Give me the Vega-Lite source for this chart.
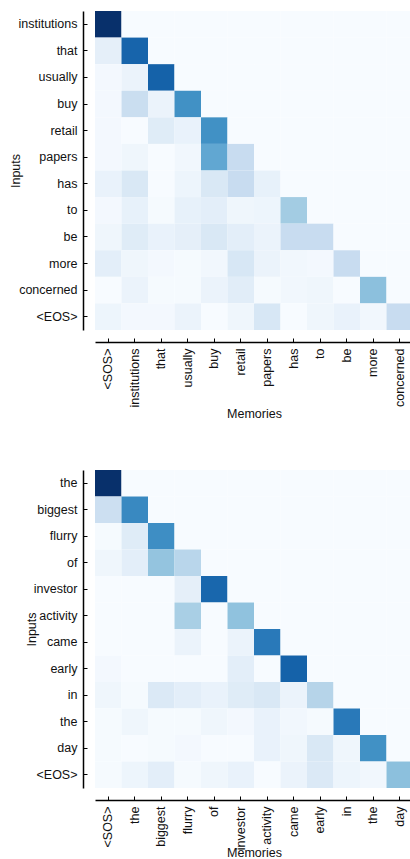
{
  "$schema": "https://vega.github.io/schema/vega-lite/v6.json",
  "padding": {"left": 9, "top": 11, "right": 0, "bottom": 0},
  "spacing": 50,
  "config": {
    "view": {"stroke": null},
    "font": "Liberation Sans",
    "axis": {
      "labelFont": "Liberation Sans", "labelFontSize": 12.5, "labelColor": "#111",
      "titleFont": "Liberation Sans", "titleFontSize": 12.5, "titleFontWeight": "normal", "titleColor": "#111",
      "domainColor": "#000", "domainWidth": 1.5, "tickColor": "#000", "tickWidth": 1, "tickSize": -4,
      "offset": 12, "grid": false, "labelPadding": 10
    },
    "axisX": {"labelAngle": -90, "labelAlign": "right", "labelBaseline": "middle", "titlePadding": 0},
    "axisY": {"titlePadding": -5}
  },
  "vconcat": [
    {
      "width": 318, "height": 319,
      "data": {"values": [
        {"r":0,"c":0,"v":1.0},{"r":0,"c":1,"v":0},{"r":0,"c":2,"v":0},{"r":0,"c":3,"v":0},{"r":0,"c":4,"v":0},{"r":0,"c":5,"v":0},{"r":0,"c":6,"v":0},{"r":0,"c":7,"v":0},{"r":0,"c":8,"v":0},{"r":0,"c":9,"v":0},{"r":0,"c":10,"v":0},{"r":0,"c":11,"v":0},
        {"r":1,"c":0,"v":0.09},{"r":1,"c":1,"v":0.8},{"r":1,"c":2,"v":0},{"r":1,"c":3,"v":0},{"r":1,"c":4,"v":0},{"r":1,"c":5,"v":0},{"r":1,"c":6,"v":0},{"r":1,"c":7,"v":0},{"r":1,"c":8,"v":0},{"r":1,"c":9,"v":0},{"r":1,"c":10,"v":0},{"r":1,"c":11,"v":0},
        {"r":2,"c":0,"v":0.02},{"r":2,"c":1,"v":0.06},{"r":2,"c":2,"v":0.81},{"r":2,"c":3,"v":0},{"r":2,"c":4,"v":0},{"r":2,"c":5,"v":0},{"r":2,"c":6,"v":0},{"r":2,"c":7,"v":0},{"r":2,"c":8,"v":0},{"r":2,"c":9,"v":0},{"r":2,"c":10,"v":0},{"r":2,"c":11,"v":0},
        {"r":3,"c":0,"v":0.02},{"r":3,"c":1,"v":0.23},{"r":3,"c":2,"v":0.06},{"r":3,"c":3,"v":0.63},{"r":3,"c":4,"v":0},{"r":3,"c":5,"v":0},{"r":3,"c":6,"v":0},{"r":3,"c":7,"v":0},{"r":3,"c":8,"v":0},{"r":3,"c":9,"v":0},{"r":3,"c":10,"v":0},{"r":3,"c":11,"v":0},
        {"r":4,"c":0,"v":0.02},{"r":4,"c":1,"v":0},{"r":4,"c":2,"v":0.12},{"r":4,"c":3,"v":0.07},{"r":4,"c":4,"v":0.63},{"r":4,"c":5,"v":0},{"r":4,"c":6,"v":0},{"r":4,"c":7,"v":0},{"r":4,"c":8,"v":0},{"r":4,"c":9,"v":0},{"r":4,"c":10,"v":0},{"r":4,"c":11,"v":0},
        {"r":5,"c":0,"v":0.02},{"r":5,"c":1,"v":0.04},{"r":5,"c":2,"v":0},{"r":5,"c":3,"v":0.03},{"r":5,"c":4,"v":0.53},{"r":5,"c":5,"v":0.24},{"r":5,"c":6,"v":0},{"r":5,"c":7,"v":0},{"r":5,"c":8,"v":0},{"r":5,"c":9,"v":0},{"r":5,"c":10,"v":0},{"r":5,"c":11,"v":0},
        {"r":6,"c":0,"v":0.07},{"r":6,"c":1,"v":0.15},{"r":6,"c":2,"v":0},{"r":6,"c":3,"v":0.05},{"r":6,"c":4,"v":0.15},{"r":6,"c":5,"v":0.24},{"r":6,"c":6,"v":0.08},{"r":6,"c":7,"v":0},{"r":6,"c":8,"v":0},{"r":6,"c":9,"v":0},{"r":6,"c":10,"v":0},{"r":6,"c":11,"v":0},
        {"r":7,"c":0,"v":0.02},{"r":7,"c":1,"v":0.08},{"r":7,"c":2,"v":0.01},{"r":7,"c":3,"v":0.08},{"r":7,"c":4,"v":0.1},{"r":7,"c":5,"v":0.04},{"r":7,"c":6,"v":0.05},{"r":7,"c":7,"v":0.36},{"r":7,"c":8,"v":0},{"r":7,"c":9,"v":0},{"r":7,"c":10,"v":0},{"r":7,"c":11,"v":0},
        {"r":8,"c":0,"v":0.04},{"r":8,"c":1,"v":0.12},{"r":8,"c":2,"v":0.07},{"r":8,"c":3,"v":0.09},{"r":8,"c":4,"v":0.15},{"r":8,"c":5,"v":0.1},{"r":8,"c":6,"v":0.06},{"r":8,"c":7,"v":0.24},{"r":8,"c":8,"v":0.24},{"r":8,"c":9,"v":0},{"r":8,"c":10,"v":0},{"r":8,"c":11,"v":0},
        {"r":9,"c":0,"v":0.1},{"r":9,"c":1,"v":0.04},{"r":9,"c":2,"v":0.02},{"r":9,"c":3,"v":0.01},{"r":9,"c":4,"v":0.03},{"r":9,"c":5,"v":0.16},{"r":9,"c":6,"v":0.06},{"r":9,"c":7,"v":0.03},{"r":9,"c":8,"v":0.02},{"r":9,"c":9,"v":0.24},{"r":9,"c":10,"v":0},{"r":9,"c":11,"v":0},
        {"r":10,"c":0,"v":0},{"r":10,"c":1,"v":0.06},{"r":10,"c":2,"v":0.01},{"r":10,"c":3,"v":0.01},{"r":10,"c":4,"v":0.06},{"r":10,"c":5,"v":0.11},{"r":10,"c":6,"v":0.01},{"r":10,"c":7,"v":0.03},{"r":10,"c":8,"v":0.04},{"r":10,"c":9,"v":0},{"r":10,"c":10,"v":0.42},{"r":10,"c":11,"v":0},
        {"r":11,"c":0,"v":0.05},{"r":11,"c":1,"v":0.02},{"r":11,"c":2,"v":0.02},{"r":11,"c":3,"v":0.06},{"r":11,"c":4,"v":0},{"r":11,"c":5,"v":0.04},{"r":11,"c":6,"v":0.16},{"r":11,"c":7,"v":0},{"r":11,"c":8,"v":0.04},{"r":11,"c":9,"v":0.07},{"r":11,"c":10,"v":0.03},{"r":11,"c":11,"v":0.24}
      ]},
      "mark": {"type": "rect"},
      "encoding": {
        "x": {"field": "c", "type": "ordinal", "title": "Memories",
              "axis": {"labelExpr": "['<SOS>','institutions','that','usually','buy','retail','papers','has','to','be','more','concerned'][datum.value]"}},
        "y": {"field": "r", "type": "ordinal", "title": "Inputs",
              "axis": {"labelExpr": "['institutions','that','usually','buy','retail','papers','has','to','be','more','concerned','<EOS>'][datum.value]"}},
        "color": {"field": "v", "type": "quantitative", "legend": null,
                  "scale": {"domain": [0, 1], "interpolate": "rgb", "range": ["#f7fbff","#deebf7","#c6dbef","#9ecae1","#6baed6","#4292c6","#2171b5","#08519c","#08306b"]}}
      }
    },
    {
      "width": 318, "height": 318,
      "data": {"values": [
        {"r":0,"c":0,"v":1.0},{"r":0,"c":1,"v":0},{"r":0,"c":2,"v":0},{"r":0,"c":3,"v":0},{"r":0,"c":4,"v":0},{"r":0,"c":5,"v":0},{"r":0,"c":6,"v":0},{"r":0,"c":7,"v":0},{"r":0,"c":8,"v":0},{"r":0,"c":9,"v":0},{"r":0,"c":10,"v":0},{"r":0,"c":11,"v":0},
        {"r":1,"c":0,"v":0.22},{"r":1,"c":1,"v":0.66},{"r":1,"c":2,"v":0},{"r":1,"c":3,"v":0},{"r":1,"c":4,"v":0},{"r":1,"c":5,"v":0},{"r":1,"c":6,"v":0},{"r":1,"c":7,"v":0},{"r":1,"c":8,"v":0},{"r":1,"c":9,"v":0},{"r":1,"c":10,"v":0},{"r":1,"c":11,"v":0},
        {"r":2,"c":0,"v":0.01},{"r":2,"c":1,"v":0.12},{"r":2,"c":2,"v":0.64},{"r":2,"c":3,"v":0},{"r":2,"c":4,"v":0},{"r":2,"c":5,"v":0},{"r":2,"c":6,"v":0},{"r":2,"c":7,"v":0},{"r":2,"c":8,"v":0},{"r":2,"c":9,"v":0},{"r":2,"c":10,"v":0},{"r":2,"c":11,"v":0},
        {"r":3,"c":0,"v":0.04},{"r":3,"c":1,"v":0.1},{"r":3,"c":2,"v":0.4},{"r":3,"c":3,"v":0.29},{"r":3,"c":4,"v":0},{"r":3,"c":5,"v":0},{"r":3,"c":6,"v":0},{"r":3,"c":7,"v":0},{"r":3,"c":8,"v":0},{"r":3,"c":9,"v":0},{"r":3,"c":10,"v":0},{"r":3,"c":11,"v":0},
        {"r":4,"c":0,"v":0},{"r":4,"c":1,"v":0},{"r":4,"c":2,"v":0},{"r":4,"c":3,"v":0.09},{"r":4,"c":4,"v":0.79},{"r":4,"c":5,"v":0},{"r":4,"c":6,"v":0},{"r":4,"c":7,"v":0},{"r":4,"c":8,"v":0},{"r":4,"c":9,"v":0},{"r":4,"c":10,"v":0},{"r":4,"c":11,"v":0},
        {"r":5,"c":0,"v":0},{"r":5,"c":1,"v":0},{"r":5,"c":2,"v":0},{"r":5,"c":3,"v":0.34},{"r":5,"c":4,"v":0},{"r":5,"c":5,"v":0.41},{"r":5,"c":6,"v":0},{"r":5,"c":7,"v":0},{"r":5,"c":8,"v":0},{"r":5,"c":9,"v":0},{"r":5,"c":10,"v":0},{"r":5,"c":11,"v":0},
        {"r":6,"c":0,"v":0},{"r":6,"c":1,"v":0},{"r":6,"c":2,"v":0},{"r":6,"c":3,"v":0.06},{"r":6,"c":4,"v":0},{"r":6,"c":5,"v":0.06},{"r":6,"c":6,"v":0.72},{"r":6,"c":7,"v":0},{"r":6,"c":8,"v":0},{"r":6,"c":9,"v":0},{"r":6,"c":10,"v":0},{"r":6,"c":11,"v":0},
        {"r":7,"c":0,"v":0.02},{"r":7,"c":1,"v":0},{"r":7,"c":2,"v":0},{"r":7,"c":3,"v":0},{"r":7,"c":4,"v":0},{"r":7,"c":5,"v":0.1},{"r":7,"c":6,"v":0},{"r":7,"c":7,"v":0.81},{"r":7,"c":8,"v":0},{"r":7,"c":9,"v":0},{"r":7,"c":10,"v":0},{"r":7,"c":11,"v":0},
        {"r":8,"c":0,"v":0.04},{"r":8,"c":1,"v":0.01},{"r":8,"c":2,"v":0.14},{"r":8,"c":3,"v":0.1},{"r":8,"c":4,"v":0.07},{"r":8,"c":5,"v":0.12},{"r":8,"c":6,"v":0.15},{"r":8,"c":7,"v":0.06},{"r":8,"c":8,"v":0.3},{"r":8,"c":9,"v":0},{"r":8,"c":10,"v":0},{"r":8,"c":11,"v":0},
        {"r":9,"c":0,"v":0.01},{"r":9,"c":1,"v":0.04},{"r":9,"c":2,"v":0.01},{"r":9,"c":3,"v":0.01},{"r":9,"c":4,"v":0.04},{"r":9,"c":5,"v":0.02},{"r":9,"c":6,"v":0.07},{"r":9,"c":7,"v":0.03},{"r":9,"c":8,"v":0.01},{"r":9,"c":9,"v":0.72},{"r":9,"c":10,"v":0},{"r":9,"c":11,"v":0},
        {"r":10,"c":0,"v":0.01},{"r":10,"c":1,"v":0},{"r":10,"c":2,"v":0.01},{"r":10,"c":3,"v":0.02},{"r":10,"c":4,"v":0},{"r":10,"c":5,"v":0},{"r":10,"c":6,"v":0.07},{"r":10,"c":7,"v":0.04},{"r":10,"c":8,"v":0.15},{"r":10,"c":9,"v":0.04},{"r":10,"c":10,"v":0.63},{"r":10,"c":11,"v":0},
        {"r":11,"c":0,"v":0.01},{"r":11,"c":1,"v":0.05},{"r":11,"c":2,"v":0.1},{"r":11,"c":3,"v":0.01},{"r":11,"c":4,"v":0.04},{"r":11,"c":5,"v":0.07},{"r":11,"c":6,"v":0},{"r":11,"c":7,"v":0.06},{"r":11,"c":8,"v":0.14},{"r":11,"c":9,"v":0.05},{"r":11,"c":10,"v":0.03},{"r":11,"c":11,"v":0.42}
      ]},
      "mark": {"type": "rect"},
      "encoding": {
        "x": {"field": "c", "type": "ordinal", "title": "Memories",
              "axis": {"titlePadding": -3, "labelExpr": "['<SOS>','the','biggest','flurry','of','investor','activity','came','early','in','the','day'][datum.value]"}},
        "y": {"field": "r", "type": "ordinal", "title": "Inputs",
              "axis": {"labelExpr": "['the','biggest','flurry','of','investor','activity','came','early','in','the','day','<EOS>'][datum.value]"}},
        "color": {"field": "v", "type": "quantitative", "legend": null,
                  "scale": {"domain": [0, 1], "interpolate": "rgb", "range": ["#f7fbff","#deebf7","#c6dbef","#9ecae1","#6baed6","#4292c6","#2171b5","#08519c","#08306b"]}}
      }
    }
  ]
}
